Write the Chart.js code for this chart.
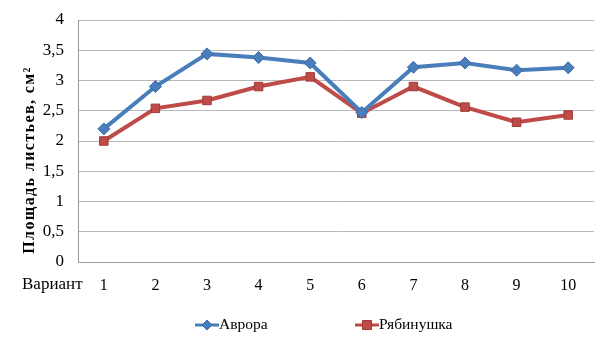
<!DOCTYPE html>
<html>
<head>
<meta charset="utf-8">
<script src="https://cdn.jsdelivr.net/npm/chart.js@4/dist/chart.umd.min.js"></script>
<style>
html,body{margin:0;padding:0;background:#fff;}
#wrap{width:610px;height:339px;position:relative;}
</style>
</head>
<body>
<div id="wrap"><canvas id="c" width="610" height="339"></canvas></div>
<script>
const categories = ['1','2','3','4','5','6','7','8','9','10'];
const avrora = [2.20, 2.90, 3.44, 3.38, 3.29, 2.47, 3.22, 3.29, 3.17, 3.21];
const ryabinushka = [2.00, 2.54, 2.67, 2.90, 3.06, 2.46, 2.90, 2.56, 2.31, 2.43];
const seriesNames = ['Аврора', 'Рябинушка'];
const yTitle = 'Площадь листьев, см²';
const xTitle = 'Вариант';

const BLUE = '#4A7EBB', BLUE_D = '#3A6AA6';
const RED = '#BE4B48', RED_D = '#9E3A38';
const SERIF = '"Liberation Serif", "Times New Roman", serif';

const extras = {
  id: 'extras',
  afterDraw(chart) {
    const ctx = chart.ctx;
    ctx.save();
    // y title
    ctx.font = 'bold 16px ' + SERIF;
    try { ctx.letterSpacing = '1.4px'; } catch (e) {}
    ctx.fillStyle = '#000';
    ctx.textAlign = 'center';
    ctx.textBaseline = 'middle';
    ctx.translate(30, 160);
    ctx.rotate(-Math.PI / 2);
    ctx.fillText(yTitle, 0, 0);
    ctx.restore();
    // x label
    ctx.save();
    ctx.font = '17px ' + SERIF;
    ctx.fillStyle = '#000';
    ctx.textAlign = 'left';
    ctx.textBaseline = 'middle';
    ctx.fillText(xTitle, 22, 285);
    ctx.restore();
    // legend
    const items = [
      {name: seriesNames[0], cx: 207, col: BLUE, dcol: BLUE_D, st: 'diamond'},
      {name: seriesNames[1], cx: 367, col: RED, dcol: RED_D, st: 'square'}
    ];
    const ly = 325;
    items.forEach(it => {
      ctx.save();
      ctx.strokeStyle = it.col;
      ctx.lineWidth = 3;
      ctx.beginPath();
      ctx.moveTo(it.cx - 12, ly);
      ctx.lineTo(it.cx + 12, ly);
      ctx.stroke();
      ctx.fillStyle = it.col;
      ctx.strokeStyle = it.dcol;
      ctx.lineWidth = 1;
      ctx.beginPath();
      if (it.st === 'diamond') {
        ctx.moveTo(it.cx, ly - 5); ctx.lineTo(it.cx + 5, ly); ctx.lineTo(it.cx, ly + 5); ctx.lineTo(it.cx - 5, ly); ctx.closePath();
      } else {
        ctx.rect(it.cx - 4.5, ly - 4.5, 9, 9);
      }
      ctx.fill(); ctx.stroke();
      ctx.font = '15.5px ' + SERIF;
      ctx.fillStyle = '#000';
      ctx.textAlign = 'left';
      ctx.textBaseline = 'middle';
      ctx.fillText(it.name, it.cx + 12, ly);
      ctx.restore();
    });
  }
};

new Chart(document.getElementById('c'), {
  type: 'line',
  data: {
    labels: categories,
    datasets: [
      {
        label: seriesNames[0], data: avrora,
        borderColor: BLUE, backgroundColor: BLUE, borderWidth: 4,
        pointStyle: 'rectRot', pointRadius: 6, pointBorderColor: BLUE_D, pointBorderWidth: 1,
        pointBackgroundColor: BLUE, tension: 0
      },
      {
        label: seriesNames[1], data: ryabinushka,
        borderColor: RED, backgroundColor: RED, borderWidth: 4,
        pointStyle: 'rect', pointRadius: 6, pointBorderColor: RED_D, pointBorderWidth: 1,
        pointBackgroundColor: RED, tension: 0
      }
    ]
  },
  options: {
    responsive: false,
    animation: false,
    events: [],
    layout: { padding: { top: 20, right: 16, bottom: 47, left: 0 } },
    plugins: { legend: { display: false }, tooltip: { enabled: false } },
    scales: {
      x: {
        offset: true,
        grid: { display: false, drawTicks: false },
        border: { display: true, color: '#9a9a9a', width: 1 },
        ticks: { font: { family: SERIF, size: 16 }, color: '#000', padding: 14 },
        afterFit(s) { s.height = 30; s.paddingLeft = 0; s.paddingRight = 0; }
      },
      y: {
        min: 0, max: 4,
        grid: { color: '#b8b8b8', lineWidth: 1, drawTicks: false },
        border: { display: true, color: '#9a9a9a', width: 1 },
        ticks: {
          stepSize: 0.5, font: { family: SERIF, size: 17 }, color: '#000', padding: 14,
          callback: v => String(v).replace('.', ',')
        },
        afterFit(s) { s.width = 78; s.paddingTop = 0; s.paddingBottom = 0; }
      }
    }
  },
  plugins: [extras]
});
</script>
</body>
</html>
